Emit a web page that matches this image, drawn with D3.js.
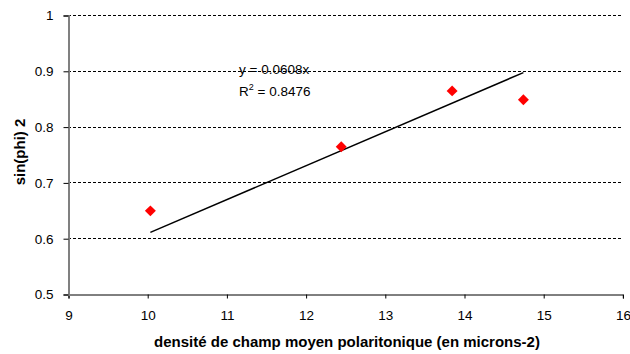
<!DOCTYPE html>
<html><head><meta charset="utf-8">
<script src="https://cdn.jsdelivr.net/npm/d3@7"></script>
<style>body{margin:0;background:#fff;} text{font-family:"Liberation Sans",Arial,sans-serif;}</style>
</head><body>
<svg id="c" width="630" height="354"></svg>
<script>
const xValues = [10.04, 12.45, 13.85, 14.75];
const yValues = [0.649, 0.764, 0.864, 0.848];
const slope = 0.0608;
const xTicks = [9, 10, 11, 12, 13, 14, 15, 16];
const yTicks = [0.5, 0.6, 0.7, 0.8, 0.9, 1];
const eqLabel = "y = 0.0608x";
const r2Value = "0.8476";
const xTitle = "densité de champ moyen polaritonique (en microns-2)";
const yTitle = "sin(phi) 2";

const svg = d3.select("#c");
const x = d3.scaleLinear().domain([9, 16]).range([68, 622.4]);
const y = d3.scaleLinear().domain([0.5, 1]).range([294, 15]);
const FONT = "Liberation Sans, Arial, sans-serif";

// gridlines
svg.append("g").selectAll("line").data(yTicks.filter(d => d > 0.5)).join("line")
  .attr("x1", x(9)).attr("x2", x(16))
  .attr("y1", d => Math.round(y(d)) + 0.5).attr("y2", d => Math.round(y(d)) + 0.5)
  .attr("stroke", "#000").attr("stroke-width", 1).attr("stroke-dasharray", "3,2");

// axes
const xAxis = d3.axisBottom(x).tickValues(xTicks).tickSize(4).tickPadding(12).tickFormat(d3.format("d"));
const gx = svg.append("g").attr("transform", `translate(0.5,${y(0.5)+0.5})`).call(xAxis);
gx.select(".domain").attr("stroke", "#000");
gx.selectAll(".tick line").attr("stroke", "#000");
gx.selectAll("text").attr("font-size", 13.5).attr("fill", "#000").attr("font-family", FONT);

const yAxis = d3.axisLeft(y).tickValues(yTicks).tickSize(5).tickPadding(10).tickFormat(d3.format("~g"));
const gy = svg.append("g").attr("transform", `translate(${x(9)+0.5},0.5)`).call(yAxis);
gy.select(".domain").attr("stroke", "#808080").attr("stroke-width", 2);
gy.selectAll(".tick line").attr("stroke", "#000");
gy.selectAll("text").attr("font-size", 13.5).attr("fill", "#000").attr("font-family", FONT);

// trendline
const xMin = d3.min(xValues), xMax = d3.max(xValues);
svg.append("line")
  .attr("x1", x(xMin)).attr("y1", y(slope * xMin))
  .attr("x2", x(xMax)).attr("y2", y(slope * xMax))
  .attr("stroke", "#000").attr("stroke-width", 1.5);

// points
const pts = xValues.map((v, i) => [v, yValues[i]]);
svg.append("g").selectAll("path").data(pts).join("path")
  .attr("d", d3.symbol(d3.symbolSquare, 60))
  .attr("transform", d => `translate(${x(d[0])},${y(d[1])}) rotate(45)`)
  .attr("fill", "#ff0000");

// equation
const eq = svg.append("g").attr("font-size", 13.5);
eq.append("text").attr("x", 239).attr("y", 73.5).text(eqLabel);
const r2 = eq.append("text").attr("x", 239).attr("y", 96);
r2.append("tspan").text("R");
r2.append("tspan").attr("dy", -6).attr("font-size", 9).text("2");
r2.append("tspan").attr("dy", 6).text(" = " + r2Value);

// titles
svg.append("text").attr("x", 347).attr("y", 346.5).attr("text-anchor", "middle")
  .attr("font-size", 15).attr("font-weight", "bold").text(xTitle);
svg.append("text").attr("transform", "translate(25,152) rotate(-90)").attr("text-anchor", "middle")
  .attr("font-size", 15).attr("font-weight", "bold").text(yTitle);
</script>
</body></html>
